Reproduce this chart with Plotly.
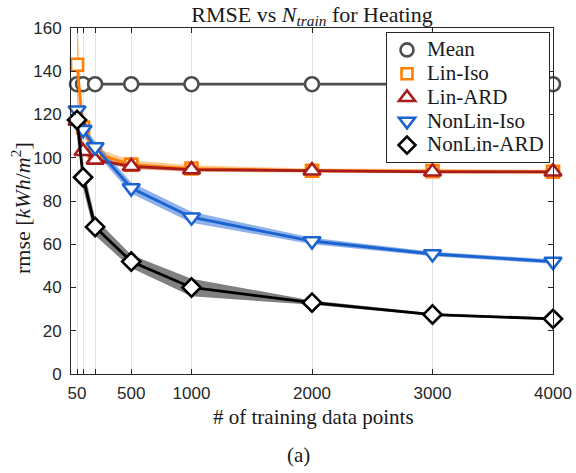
import plotly.graph_objects as go

# ---- data ----
n_train = [50, 100, 200, 500, 1000, 2000, 3000, 4000]
label_ticks = [50, 500, 1000, 2000, 3000, 4000]
label_text = ["50", "500", "1000", "2000", "3000", "4000"]
unlabeled_ticks = [100, 200]
y_ticks = [0, 20, 40, 60, 80, 100, 120, 140, 160]

mean_rmse = [134, 134, 134, 134, 134, 134, 134, 134]
mean_std = [0, 0, 0, 0, 0, 0, 0, 0]

lin_iso = [143, 114, 102, 96.8, 95, 94, 93.8, 93.5]
lin_iso_std = [22, 3, 2.5, 2, 1.5, 1, 1, 1]

lin_ard = [117, 103, 99, 96, 94.5, 94, 93.5, 93.5]
lin_ard_std = [2, 1.5, 1, 1, 0.8, 0.6, 0.5, 0.5]

nonlin_iso = [122, 113, 105, 86, 72.5, 61.5, 55.5, 52]
nonlin_iso_std = [2, 2.5, 2.5, 2.5, 2.5, 1.5, 1, 1]

nonlin_ard = [117.5, 91, 68, 52, 40, 33, 27.5, 25.5]
nonlin_ard_std = [2, 5, 4, 3, 4, 1, 0.6, 0.5]

series = [
    ("Mean", mean_rmse, mean_std, "#4d4d4d", "rgba(77,77,77,0.35)", "circle", 14),
    ("Lin-Iso", lin_iso, lin_iso_std, "#ff8000", "rgba(255,128,0,0.40)", "square", 12),
    ("Lin-ARD", lin_ard, lin_ard_std, "#a81c1c", "rgba(168,28,28,0.40)", "triangle-up", 15),
    ("NonLin-Iso", nonlin_iso, nonlin_iso_std, "#1b63d1", "rgba(27,99,209,0.50)", "triangle-down", 15),
    ("NonLin-ARD", nonlin_ard, nonlin_ard_std, "#000000", "rgba(60,60,60,0.65)", "diamond", 14),
]

SERIF = "Liberation Serif, Times New Roman, serif"
SANS = "Liberation Sans, Arial, sans-serif"
TXT = "#1a1a1a"

fig = go.Figure()

# shaded +/- std bands
for name, y, s, col, band, sym, size in series:
    if max(s) > 0:
        upper = [a + b for a, b in zip(y, s)]
        lower = [a - b for a, b in zip(y, s)]
        fig.add_trace(go.Scatter(
            x=n_train + n_train[::-1], y=upper + lower[::-1],
            fill="toself", fillcolor=band, line=dict(width=0),
            mode="lines", hoverinfo="skip", showlegend=False))

# lines + markers, plus marker-only legend entries
for name, y, s, col, band, sym, size in series:
    fig.add_trace(go.Scatter(
        x=n_train, y=y, mode="lines+markers", name=name, showlegend=False,
        cliponaxis=False,
        line=dict(color=col, width=2.8),
        marker=dict(symbol=sym, size=size, color="white",
                    line=dict(color=col, width=2.6))))
    fig.add_trace(go.Scatter(
        x=[None], y=[None], mode="markers", showlegend=True,
        name='<span style="font-size:21px">%s</span>' % name,
        marker=dict(symbol=sym, size=size - 1, color="white",
                    line=dict(color=col, width=2.6))))

axis_common = dict(
    showline=True, linecolor="#262626", linewidth=1, mirror="ticks",
    ticks="inside", ticklen=5, tickcolor="#262626",
    tickfont=dict(family=SANS, size=17, color="#262626"),
    zeroline=False,
)

fig.update_xaxes(range=[0, 4000], tickmode="array", tickvals=label_ticks, ticktext=label_text,
                 showgrid=True, gridcolor="#e3e3e3", gridwidth=1, ticklabelstandoff=4,
                 minor=dict(tickmode="array", tickvals=unlabeled_ticks, ticks="inside",
                            ticklen=5, tickcolor="#262626", showgrid=True,
                            gridcolor="#e3e3e3", gridwidth=1),
                 **axis_common)
fig.update_yaxes(range=[0, 160], tickmode="array", tickvals=y_ticks,
                 showgrid=False, ticklabelstandoff=5, **axis_common)

fig.update_layout(
    width=576, height=473,
    margin=dict(l=71, r=23, t=28, b=99, autoexpand=False),
    plot_bgcolor="white", paper_bgcolor="white",
    title=dict(text="RMSE vs <i>N</i><sub><i>train</i></sub> for Heating",
               x=312 / 576, xanchor="center", y=1 - 14 / 473, yanchor="middle",
               font=dict(family=SERIF, size=22, color=TXT)),
    legend=dict(x=(386 - 71) / 482, y=(374 - 32) / 346, xanchor="left", yanchor="top",
                bgcolor="white", bordercolor="#262626", borderwidth=1,
                font=dict(family=SERIF, size=16, color=TXT),
                itemwidth=30, tracegroupgap=0),
    annotations=[
        dict(text="# of training data points", xref="paper", yref="paper",
             x=(313 - 71) / 482, y=-(417 - 374) / 346, xanchor="center", yanchor="middle",
             showarrow=False, font=dict(family=SERIF, size=21, color=TXT)),
        dict(text="rmse [<i>kWh</i>/<i>m</i><sup>2</sup>]", xref="paper", yref="paper",
             x=-(71 - 21) / 482, y=(374 - 208) / 346, xanchor="center", yanchor="middle",
             textangle=-90,
             showarrow=False, font=dict(family=SERIF, size=22, color=TXT)),
        dict(text="(a)", xref="paper", yref="paper",
             x=(298 - 71) / 482, y=-(455 - 374) / 346, xanchor="center", yanchor="middle",
             showarrow=False, font=dict(family=SERIF, size=21, color=TXT)),
    ],
)

fig.write_html("out.html", config={"displayModeBar": False},
               post_script="document.body.style.margin='0px';")
